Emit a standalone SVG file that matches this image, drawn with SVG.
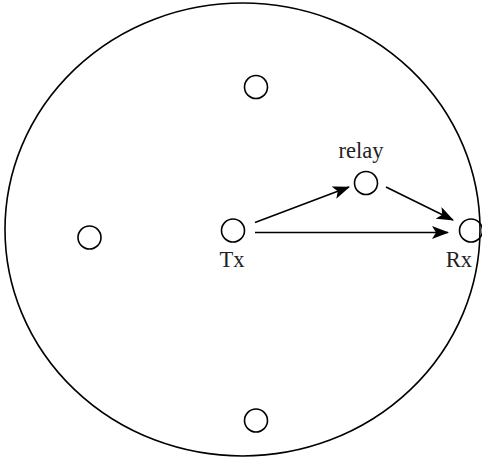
<svg xmlns="http://www.w3.org/2000/svg" width="482" height="460" viewBox="0 0 482 460">
<style>
.n{fill:none;stroke:#000;stroke-width:1.6}
.t{font-family:"Liberation Serif",serif;font-size:22.5px;fill:#222;text-anchor:middle}
.c{stroke:#000;stroke-width:1.6;fill:none}
</style>
<defs>
<marker id="ah" markerWidth="17" markerHeight="13" refX="16" refY="6.5" orient="auto" markerUnits="userSpaceOnUse">
<path d="M0,0 L17,6.5 L0,13 L4,6.5 Z" fill="#000"/>
</marker>
</defs>
<rect width="482" height="460" fill="#fff"/>
<g id="area"><ellipse class="n" cx="242.5" cy="229.5" rx="237.5" ry="226.5"/></g>
<g id="n-top"><circle class="n" cx="256" cy="87" r="11.5"/></g>
<g id="n-left"><circle class="n" cx="89.5" cy="237.5" r="11.5"/></g>
<g id="n-bottom"><circle class="n" cx="256" cy="420.5" r="11.5"/></g>
<g id="tx"><circle class="n" cx="233" cy="230.5" r="11.5"/><text class="t" x="232" y="267">Tx</text></g>
<g id="relay"><circle class="n" cx="366" cy="183" r="11.5"/><text class="t" x="361" y="158">relay</text></g>
<g id="rx"><circle class="n" cx="471" cy="230.5" r="11.5"/><text class="t" x="459" y="267">Rx</text></g>
<g id="connectors">
<line class="c" x1="255" y1="222.5" x2="349" y2="187" marker-end="url(#ah)"/>
<line class="c" x1="386" y1="187" x2="453" y2="220" marker-end="url(#ah)"/>
<line class="c" x1="255" y1="232.5" x2="448" y2="232.5" marker-end="url(#ah)"/>
</g>
</svg>
